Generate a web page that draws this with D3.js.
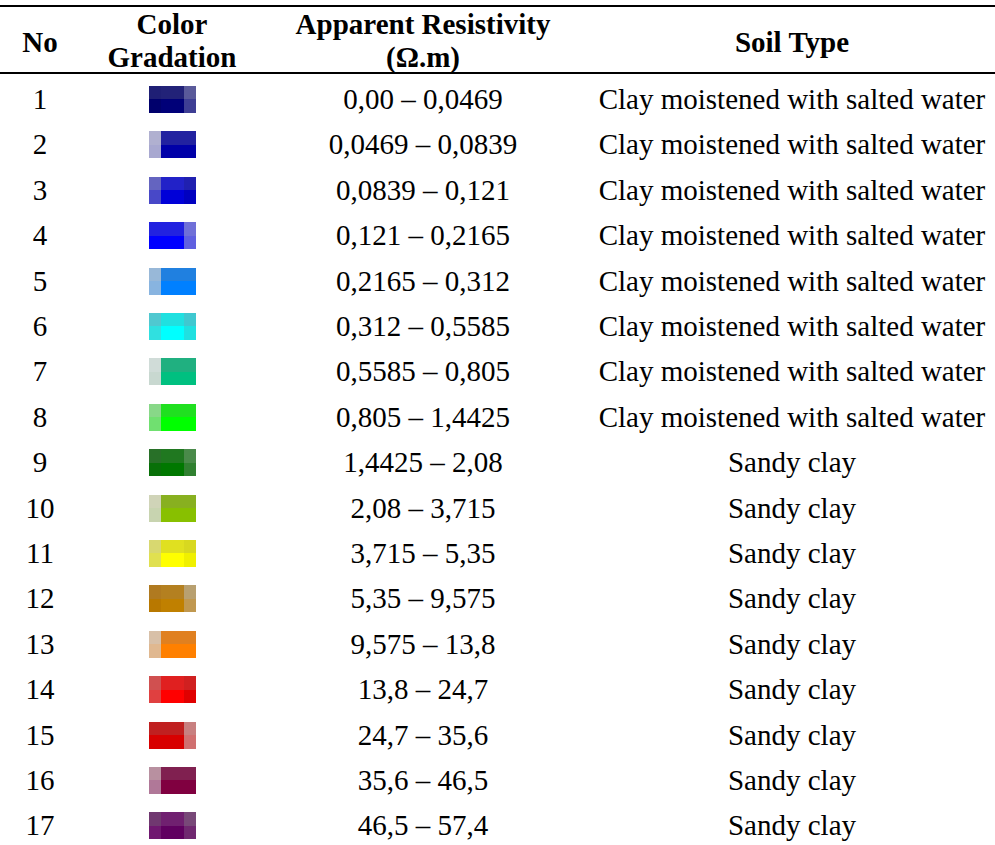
<!DOCTYPE html>
<html>
<head>
<meta charset="utf-8">
<script src="https://cdn.jsdelivr.net/npm/d3@7"></script>
<style>
  body { margin: 0; background: #fff; }
  text { font-family: "Liberation Serif", "Times New Roman", serif; fill: #000; }
</style>
</head>
<body>
<svg id="my_svg"></svg>
<script>
const width = 995;
const height = 845;

// table content
const rowNumbers = d3.range(1, 18);
const resistivityBounds = ["0,00", "0,0469", "0,0839", "0,121", "0,2165", "0,312", "0,5585", "0,805",
    "1,4425", "2,08", "3,715", "5,35", "9,575", "13,8", "24,7", "35,6", "46,5", "57,4"];
const soilTypes = [
    "Clay moistened with salted water", "Clay moistened with salted water", "Clay moistened with salted water",
    "Clay moistened with salted water", "Clay moistened with salted water", "Clay moistened with salted water",
    "Clay moistened with salted water", "Clay moistened with salted water",
    "Sandy clay", "Sandy clay", "Sandy clay", "Sandy clay", "Sandy clay",
    "Sandy clay", "Sandy clay", "Sandy clay", "Sandy clay"];
// swatch pixels: top row (3 cells) then bottom row (3 cells)
const swatchColors = [
    ["#1f1f75", "#222278", "#5a5a9a", "#00006c", "#000078", "#3e3e94"],
    ["#b0b0d0", "#2222a0", "#2222a0", "#a8a8d0", "#0000a8", "#0000a8"],
    ["#6464c0", "#2222c8", "#2020b0", "#4848c8", "#0000d8", "#0000c0"],
    ["#2222e0", "#2222e0", "#7070d8", "#0000ff", "#0000ff", "#6060e0"],
    ["#98b8d8", "#2080e0", "#2080e0", "#88b4e0", "#0080ff", "#0080ff"],
    ["#50c8d0", "#20e0e0", "#40c8d0", "#30e0e0", "#00ffff", "#20e0e0"],
    ["#d0dcd8", "#20b080", "#20b080", "#c8d8d0", "#00c080", "#00c080"],
    ["#88d888", "#20e020", "#20e020", "#70e070", "#00ff00", "#00ff00"],
    ["#287028", "#207820", "#4a8a4a", "#087008", "#007800", "#308030"],
    ["#d0d4b8", "#88b020", "#88b020", "#c8d4b0", "#88c000", "#88c000"],
    ["#d8d870", "#e0e020", "#d8d820", "#e0e050", "#ffff00", "#f0f000"],
    ["#b07a20", "#b48020", "#b8a070", "#b87800", "#c08000", "#c09850"],
    ["#d8c0a8", "#e08020", "#e08020", "#e0b890", "#ff8000", "#ff8000"],
    ["#d05050", "#e02020", "#d02020", "#e04040", "#ff0000", "#e00000"],
    ["#c02020", "#c02020", "#c88080", "#d80000", "#d80000", "#d07070"],
    ["#b890a0", "#802050", "#802050", "#b07898", "#800040", "#800040"],
    ["#703870", "#702070", "#784878", "#701870", "#600060", "#702870"]
];

const rows = rowNumbers.map((n, i) => ({
    no: n,
    range: resistivityBounds[i] + " \u2013 " + resistivityBounds[i + 1],
    soil: soilTypes[i],
    colors: swatchColors[i]
}));

const svg = d3.select('#my_svg')
    .attr('width', width)
    .attr('height', height);

// row positions
const y = d3.scaleBand()
    .domain(rowNumbers)
    .range([76.3, 848]);

// column centres
const colX = { no: 40, swatch: 172, range: 423, soil: 792 };
const fontSize = 29;

// header rules
svg.append('line')
    .attr('x1', 0).attr('x2', width)
    .attr('y1', 6).attr('y2', 6)
    .attr('stroke', '#000').attr('stroke-width', 2);
svg.append('line')
    .attr('x1', 0).attr('x2', width)
    .attr('y1', 73).attr('y2', 73)
    .attr('stroke', '#000').attr('stroke-width', 2);

// header
const header = [
    { x: colX.no, lines: ["No"] },
    { x: colX.swatch, lines: ["Color", "Gradation"] },
    { x: colX.range, lines: ["Apparent Resistivity", "(\u03a9.m)"] },
    { x: colX.soil, lines: ["Soil Type"] }
];
header.forEach(h => {
    const t = svg.append('text')
        .attr('text-anchor', 'middle')
        .attr('font-weight', 'bold')
        .attr('font-size', fontSize);
    if (h.lines.length === 1) {
        t.append('tspan').attr('x', h.x).attr('y', 51.5).text(h.lines[0]);
    } else {
        h.lines.forEach((l, j) => {
            t.append('tspan').attr('x', h.x).attr('y', 33.5 + j * 33).text(l);
        });
    }
});

// body rows
const row = svg.selectAll('.row')
    .data(rows)
    .enter()
    .append('g')
    .attr('class', 'row')
    .attr('transform', d => `translate(0, ${y(d.no) + y.bandwidth() / 2})`);

row.append('text')
    .attr('x', colX.no)
    .attr('y', 10)
    .attr('text-anchor', 'middle')
    .attr('font-size', fontSize)
    .text(d => d.no);

row.append('text')
    .attr('x', colX.range)
    .attr('y', 10)
    .attr('text-anchor', 'middle')
    .attr('font-size', fontSize)
    .text(d => d.range);

row.append('text')
    .attr('x', colX.soil)
    .attr('y', 10)
    .attr('text-anchor', 'middle')
    .attr('font-size', fontSize)
    .text(d => d.soil);

// swatches: 2 x 3 pixel blocks with unequal column widths
const swatchX = d3.scaleLinear().domain([0, 1]).range([149, 196]);
const colEdges = [0, 0.255, 0.745, 1];
const swatchY = d3.scaleLinear().domain([0, 2]).range([-13, 14]);

row.selectAll('.cell')
    .data(d => d.colors.map((c, k) => ({ c: c, r: Math.floor(k / 3), col: k % 3 })))
    .enter()
    .append('rect')
    .attr('class', 'cell')
    .attr('x', d => swatchX(colEdges[d.col]))
    .attr('width', d => swatchX(colEdges[d.col + 1]) - swatchX(colEdges[d.col]))
    .attr('y', d => swatchY(d.r))
    .attr('height', d => swatchY(d.r + 1) - swatchY(d.r))
    .attr('fill', d => d.c)
    .attr('shape-rendering', 'crispEdges');
</script>
</body>
</html>
